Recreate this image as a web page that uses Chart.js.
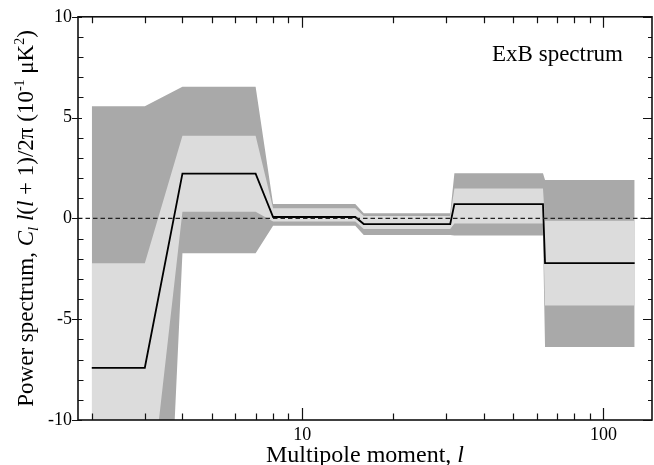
<!DOCTYPE html>
<html><head><meta charset="utf-8">
<script src="https://cdn.jsdelivr.net/npm/chart.js@4"></script>
<style>html,body{margin:0;padding:0;background:#fff}#wrap{width:654px;height:465px}</style>
</head><body><div id="wrap"><canvas id="c" width="654" height="465"></canvas></div>
<script>
// Bin edges in multipole moment l
const multipoleEdges = [2, 3, 4, 7, 8, 15, 16, 31, 32, 63, 64, 127];
// Central ExB power estimate (10^-1 uK^2)
const powerCentral   = [-7.41, -7.41, 2.22, 2.22, 0.07, 0.07, -0.28, -0.28, 0.71, 0.71, -2.22, -2.22];
// 1-sigma band (light)
const band1Upper     = [-2.22, -2.22, 4.10, 4.10, 0.50, 0.50, 0.12, 0.12, 1.48, 1.48, -0.12, -0.12];
const band1Lower     = [-16.2, -16.2, 0.33, 0.33, -0.15, -0.15, -0.52, -0.52, -0.25, -0.25, -4.32, -4.32];
// 2-sigma band (dark)
const band2Upper     = [5.56, 5.56, 6.53, 6.53, 0.71, 0.71, 0.25, 0.25, 2.24, 2.24, 1.91, 1.91];
const band2Lower     = [-42.0, -42.0, -1.73, -1.73, -0.36, -0.36, -0.82, -0.82, -0.85, -0.85, -6.38, -6.38];

// Axis ranges and tick values
const xRange = [1.8, 145];
const yRange = [-10, 10];
const xMajorTicks = [10, 100];
const xMinorTicks = [2, 3, 4, 5, 6, 7, 8, 9, 20, 30, 40, 50, 60, 70, 80, 90];
const yMajorTicks = [-10, -5, 0, 5, 10];
const yMinorTicks = [-9, -8, -7, -6, -4, -3, -2, -1, 1, 2, 3, 4, 6, 7, 8, 9];

const panelLabel = 'ExB spectrum';

const SERIF = '"Liberation Serif", "Times New Roman", Times, serif';
Chart.defaults.font.family = SERIF;
Chart.defaults.color = '#000';

const pts = arr => multipoleEdges.map((l, i) => ({x: l, y: arr[i]}));

const DARK = '#a9a9a9';
const LIGHT = '#dcdcdc';

function fontStr(s) {
  return (s.i ? 'italic ' : '') + (s.size || 23) + 'px ' + SERIF;
}
function drawRich(ctx, segs, x, y, align) {
  let total = 0;
  segs.forEach(s => { ctx.font = fontStr(s); s.w = ctx.measureText(s.t).width; total += s.w; });
  let cx = align === 'center' ? x - total / 2 : (align === 'right' ? x - total : x);
  segs.forEach(s => { ctx.font = fontStr(s); ctx.fillText(s.t, cx, y + (s.dy || 0)); cx += s.w; });
}

const decorPlugin = {
  id: 'decor',
  afterDatasetsDraw(chart) {
    const ctx = chart.ctx, a = chart.chartArea;
    const xs = chart.scales.x, ys = chart.scales.y;
    ctx.save();
    // zero reference line
    const y0 = ys.getPixelForValue(0);
    ctx.strokeStyle = '#222';
    ctx.lineWidth = 1.2;
    ctx.setLineDash([4.5, 3]);
    ctx.beginPath(); ctx.moveTo(a.left, y0); ctx.lineTo(a.right, y0); ctx.stroke();
    ctx.setLineDash([]);
    ctx.restore();
  },
  afterDraw(chart) {
    const ctx = chart.ctx, a = chart.chartArea;
    const xs = chart.scales.x, ys = chart.scales.y;
    ctx.save();
    ctx.strokeStyle = '#111';
    ctx.lineWidth = 1.2;
    ctx.beginPath();
    // x ticks bottom & top (inward)
    xMajorTicks.forEach(v => {
      const px = Math.round(xs.getPixelForValue(v)) + 0.5;
      ctx.moveTo(px, a.bottom); ctx.lineTo(px, a.bottom - 12);
      ctx.moveTo(px, a.top); ctx.lineTo(px, a.top + 11);
    });
    xMinorTicks.forEach(v => {
      const px = Math.round(xs.getPixelForValue(v)) + 0.5;
      ctx.moveTo(px, a.bottom); ctx.lineTo(px, a.bottom - 6.5);
      ctx.moveTo(px, a.top); ctx.lineTo(px, a.top + 6.5);
    });
    // y ticks left & right
    yMajorTicks.forEach(v => {
      const py = Math.round(ys.getPixelForValue(v)) + 0.5;
      ctx.moveTo(a.left - 6, py); ctx.lineTo(a.left + 4, py);
      ctx.moveTo(a.right, py); ctx.lineTo(a.right - 9, py);
    });
    yMinorTicks.forEach(v => {
      const py = Math.round(ys.getPixelForValue(v)) + 0.5;
      ctx.moveTo(a.left, py); ctx.lineTo(a.left + 5.5, py);
      ctx.moveTo(a.right, py); ctx.lineTo(a.right - 4, py);
    });
    ctx.stroke();
    // frame
    ctx.lineWidth = 1.6;
    ctx.strokeStyle = '#111';
    ctx.strokeRect(a.left, a.top, a.right - a.left, a.bottom - a.top);

    // titles
    ctx.fillStyle = '#000';
    ctx.textBaseline = 'alphabetic';
    drawRich(ctx, [
      {t: 'Multipole moment, ', size: 24},
      {t: 'l', size: 24, i: true}
    ], (a.left + a.right) / 2, 461.5, 'center');

    ctx.save();
    ctx.translate(33, (a.top + a.bottom) / 2);
    ctx.rotate(-Math.PI / 2);
    drawRich(ctx, [
      {t: 'Power spectrum, '},
      {t: 'C', i: true},
      {t: 'l', i: true, size: 15, dy: 5},
      {t: ' '},
      {t: 'l', i: true},
      {t: '('},
      {t: 'l', i: true},
      {t: ' + 1)/2\u03C0 (10'},
      {t: '-1', size: 14, dy: -9},
      {t: ' \u03BCK'},
      {t: '2', size: 14, dy: -9},
      {t: ')'}
    ], 0, 0, 'center');
    ctx.restore();

    ctx.font = '23px ' + SERIF;
    ctx.textAlign = 'right';
    ctx.fillText(panelLabel, 623, 60.5);
    ctx.restore();
  }
};

new Chart(document.getElementById('c'), {
  type: 'line',
  data: {
    datasets: [
      {label: 'central', data: pts(powerCentral), borderColor: '#000', borderWidth: 1.8,
       fill: false, pointRadius: 0, tension: 0, order: 0},
      {label: '1sigma upper', data: pts(band1Upper), borderWidth: 0, borderColor: 'rgba(0,0,0,0)',
       backgroundColor: LIGHT, fill: '+1', pointRadius: 0, tension: 0, order: 1},
      {label: '1sigma lower', data: pts(band1Lower), borderWidth: 0, borderColor: 'rgba(0,0,0,0)',
       fill: false, pointRadius: 0, tension: 0, order: 1},
      {label: '2sigma upper', data: pts(band2Upper), borderWidth: 0, borderColor: 'rgba(0,0,0,0)',
       backgroundColor: DARK, fill: '+1', pointRadius: 0, tension: 0, order: 2},
      {label: '2sigma lower', data: pts(band2Lower), borderWidth: 0, borderColor: 'rgba(0,0,0,0)',
       fill: false, pointRadius: 0, tension: 0, order: 2}
    ]
  },
  options: {
    responsive: false, animation: false, devicePixelRatio: 1,
    layout: {padding: {left: 0, right: 2, top: 15, bottom: 0}},
    plugins: {legend: {display: false}, tooltip: {enabled: false}},
    scales: {
      x: {
        type: 'logarithmic', min: xRange[0], max: xRange[1],
        border: {display: false},
        grid: {display: false, drawTicks: false},
        ticks: {color: '#000', font: {size: 18}, padding: 4, maxRotation: 0, autoSkip: false,
                callback: v => String(v)},
        afterBuildTicks: s => { s.ticks = xMajorTicks.map(v => ({value: v})); },
        afterFit: s => { s.height = 45; }
      },
      y: {
        type: 'linear', min: yRange[0], max: yRange[1],
        border: {display: false},
        grid: {display: false, drawTicks: false},
        ticks: {color: '#000', font: {size: 18}, padding: 6, callback: v => String(v)},
        afterBuildTicks: s => { s.ticks = yMajorTicks.map(v => ({value: v})); },
        afterFit: s => { s.width = 78; }
      }
    }
  },
  plugins: [decorPlugin]
});
</script>
</body></html>
